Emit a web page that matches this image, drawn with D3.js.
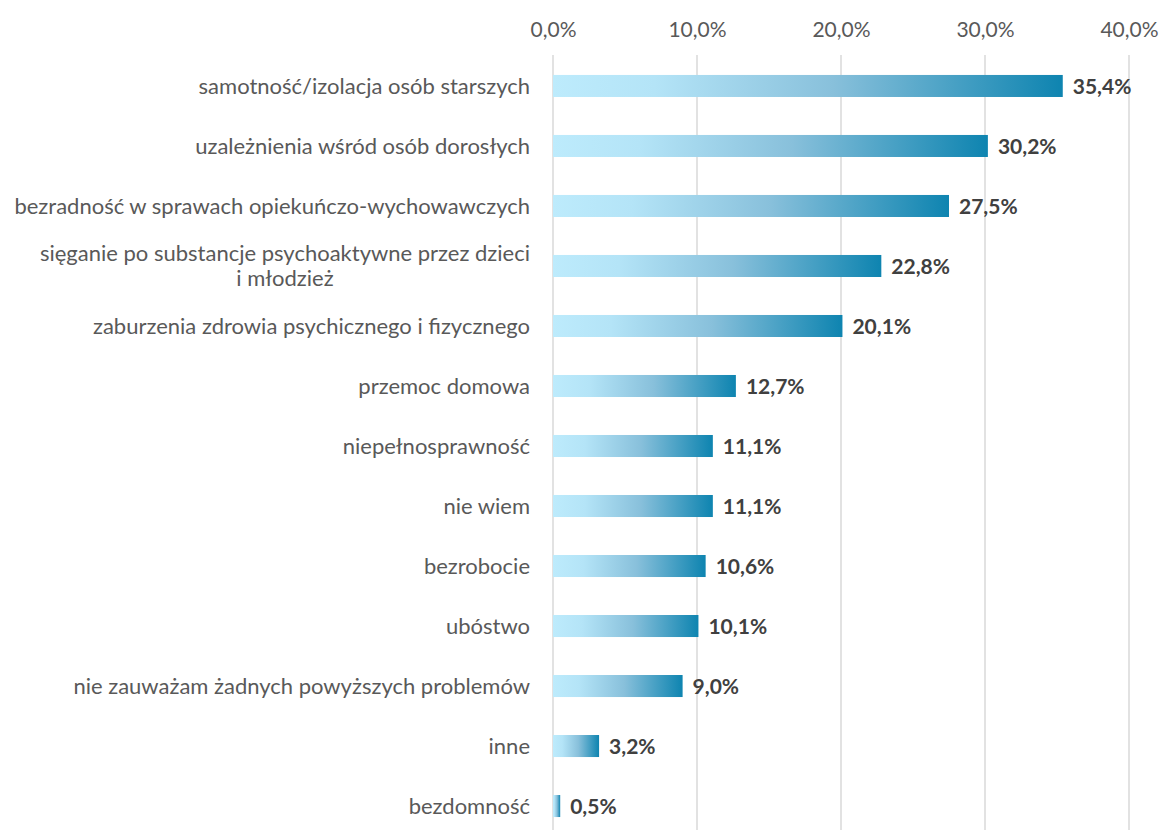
<!DOCTYPE html>
<html>
<head>
<meta charset="utf-8">
<script src="https://cdn.jsdelivr.net/npm/d3@7"></script>
<style>
  body { margin: 0; background: #fff; }
  svg { display: block; font-family: Lato, "Open Sans", sans-serif; }
</style>
</head>
<body>
<div id="chart"></div>
<script>
// categories, top to bottom
const categories = [
  'samotność/izolacja osób starszych',
  'uzależnienia wśród osób dorosłych',
  'bezradność w sprawach opiekuńczo-wychowawczych',
  'sięganie po substancje psychoaktywne przez dzieci|i młodzież',
  'zaburzenia zdrowia psychicznego i fizycznego',
  'przemoc domowa',
  'niepełnosprawność',
  'nie wiem',
  'bezrobocie',
  'ubóstwo',
  'nie zauważam żadnych powyższych problemów',
  'inne',
  'bezdomność'
];
const values = [35.4, 30.2, 27.5, 22.8, 20.1, 12.7, 11.1, 11.1, 10.6, 10.1, 9.0, 3.2, 0.5];
const tickValues = [0, 10, 20, 30, 40];

const W = 1161, H = 830;
const svg = d3.select('#chart').append('svg')
  .attr('width', W).attr('height', H);

const x = d3.scaleLinear().domain([0, 40]).range([553, 1129]);
const y = d3.scaleBand().domain(categories).range([56, 836]).paddingInner(0.633).paddingOuter(0.316);

const fmt = v => d3.format('.1f')(v).replace('.', ',') + '%';

// gradient for each bar (light on the left, dark blue on the right)
const grad = svg.append('defs').append('linearGradient')
  .attr('id', 'barGrad').attr('x1', 0).attr('x2', 1).attr('y1', 0).attr('y2', 0);
grad.append('stop').attr('offset', 0).attr('stop-color', '#bdebfc');
grad.append('stop').attr('offset', 0.2).attr('stop-color', '#b4e4f7');
grad.append('stop').attr('offset', 0.55).attr('stop-color', '#88c0db');
grad.append('stop').attr('offset', 1).attr('stop-color', '#0e84b0');

// vertical gridlines
svg.append('g').selectAll('line')
  .data(tickValues)
  .join('line')
  .attr('x1', d => x(d)).attr('x2', d => x(d))
  .attr('y1', 55).attr('y2', H)
  .attr('stroke', '#d9d9d9').attr('stroke-width', 1.5);

// top axis tick labels
const axis = svg.append('g')
  .attr('transform', 'translate(0,40)')
  .call(d3.axisTop(x).tickValues(tickValues).tickFormat(fmt).tickSize(0).tickPadding(0));
axis.select('.domain').remove();
axis.selectAll('text')
  .attr('font-family', 'Lato, "Open Sans", sans-serif')
  .attr('font-size', 21).attr('fill', '#595959').attr('dy', '-0.15em');

// bars
svg.append('g').selectAll('rect')
  .data(categories)
  .join('rect')
  .attr('x', x(0))
  .attr('y', d => y(d))
  .attr('width', (d, i) => x(values[i]) - x(0))
  .attr('height', y.bandwidth())
  .attr('fill', 'url(#barGrad)');

// value labels
svg.append('g').selectAll('text')
  .data(categories)
  .join('text')
  .attr('x', (d, i) => x(values[i]) + 10)
  .attr('y', d => y(d) + y.bandwidth() / 2)
  .attr('dy', '0.36em')
  .attr('font-size', 21).attr('font-weight', 700).attr('fill', '#404040')
  .text((d, i) => fmt(values[i]));

// category labels; wrapped lines are centred on the widest line, block right-aligned
const labelRight = 530;
const lh = 25;
svg.append('g').selectAll('g')
  .data(categories)
  .join('g')
  .each(function(d) {
    const g = d3.select(this);
    const lines = d.split('|');
    const cy = y(d) + y.bandwidth() / 2;
    const t = lines.map((ln, i) => g.append('text')
      .attr('y', cy + (i - (lines.length - 1) / 2) * lh)
      .attr('dy', '0.36em')
      .attr('font-size', 22).attr('fill', '#595959')
      .text(ln));
    const wMax = d3.max(t, s => s.node().getComputedTextLength());
    t.forEach(s => s.attr('text-anchor', 'middle').attr('x', labelRight - wMax / 2));
  });
</script>
</body>
</html>
